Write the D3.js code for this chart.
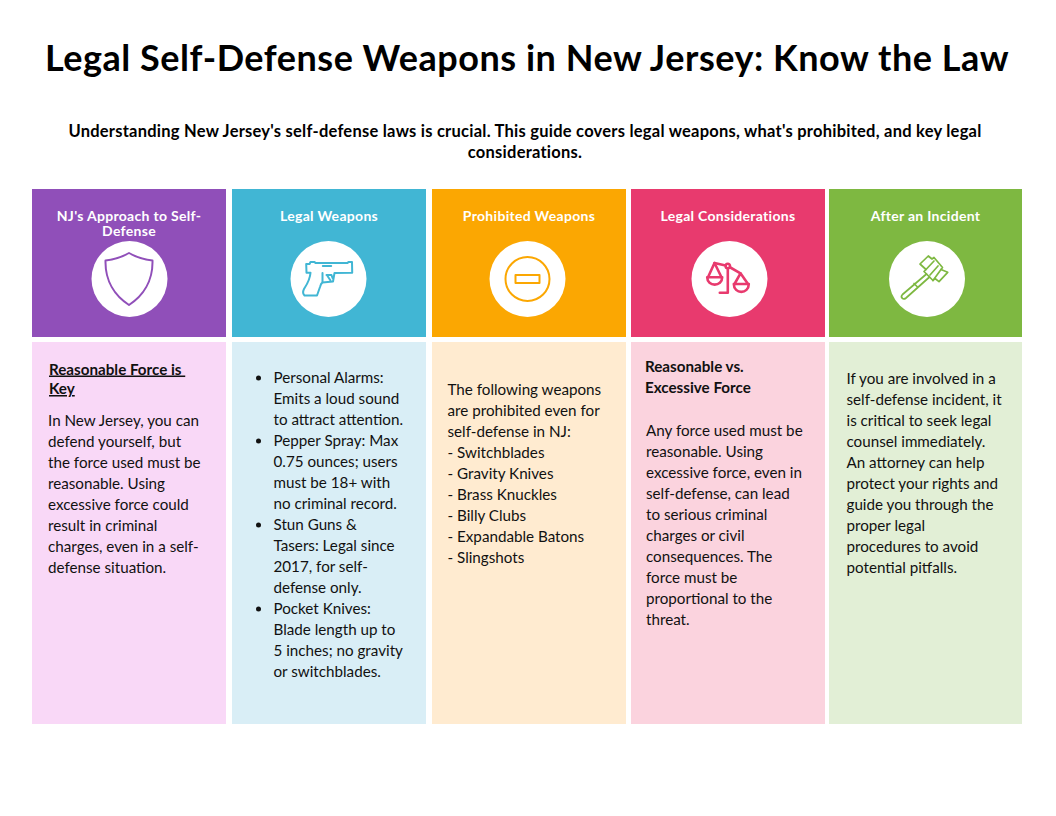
<!DOCTYPE html>
<html>
<head>
<meta charset="utf-8">
<script src="https://cdn.jsdelivr.net/npm/d3@7"></script>
<style>
  html, body { margin: 0; padding: 0; background: #fff; }
  svg { display: block; }
  text { font-family: "Lato", "Noto Sans", sans-serif; }
</style>
</head>
<body>
<svg id="chart" width="1056" height="816"></svg>
<script>
const titleText = "Legal Self-Defense Weapons in New Jersey: Know the Law";
const introLines = [
  "Understanding New Jersey's self-defense laws is crucial. This guide covers legal weapons, what's prohibited, and key legal",
  "considerations."
];
const headers = [
  ["NJ's Approach to Self-", "Defense"],
  ["Legal Weapons"],
  ["Prohibited Weapons"],
  ["Legal Considerations"],
  ["After an Incident"]
];
const headerColors = ["#904fb9", "#41b6d4", "#fba702", "#e83a6e", "#7eb841"];
const panelColors = ["#f9d8f7", "#d9eef6", "#ffebd0", "#fbd3de", "#e2efd6"];
const iconNames = ["shield", "gun", "minus", "scales", "gavel"];

const purpleHeading = ["Reasonable Force is ", "Key"];
const purpleBody = ["In New Jersey, you can", "defend yourself, but", "the force used must be", "reasonable. Using", "excessive force could", "result in criminal", "charges, even in a self-", "defense situation."];
const blueItems = [
  ["Personal Alarms:", "Emits a loud sound", "to attract attention."],
  ["Pepper Spray: Max", "0.75 ounces; users", "must be 18+ with", "no criminal record."],
  ["Stun Guns &", "Tasers: Legal since", "2017, for self-", "defense only."],
  ["Pocket Knives:", "Blade length up to", "5 inches; no gravity", "or switchblades."]
];
const orangeBody = ["The following weapons", "are prohibited even for", "self-defense in NJ:", "- Switchblades", "- Gravity Knives", "- Brass Knuckles", "- Billy Clubs", "- Expandable Batons", "- Slingshots"];
const pinkHeading = ["Reasonable vs.", "Excessive Force"];
const pinkBody = ["Any force used must be", "reasonable. Using", "excessive force, even in", "self-defense, can lead", "to serious criminal", "charges or civil", "consequences. The", "force must be", "proportional to the", "threat."];
const greenBody = ["If you are involved in a", "self-defense incident, it", "is critical to seek legal", "counsel immediately.", "An attorney can help", "protect your rights and", "guide you through the", "proper legal", "procedures to avoid", "potential pitfalls."];

const svg = d3.select("#chart");
const dark = "#111";
const lineGap = 21;

// columns are not quite evenly spaced in the original
const colIndex = d3.range(headers.length);
const x = d3.scaleOrdinal().domain(colIndex).range([32, 232, 432, 631, 829]);
const colWidth = d3.scaleOrdinal().domain(colIndex).range([194, 194, 194, 194, 193]);
const iconX = d3.scaleOrdinal().domain(colIndex).range([97.5, 96.5, 95.5, 98.5, 98]);
const headerY = d3.scaleLinear().domain([0, 1]).range([189, 337]);
const panelY = d3.scaleLinear().domain([0, 1]).range([342, 724]);

svg.append("text").attr("x", 527).attr("y", 71).attr("text-anchor", "middle")
  .attr("font-size", 36).attr("font-weight", 700).attr("letter-spacing", 0.53)
  .attr("fill", "#000").text(titleText);

svg.selectAll("text.intro").data(introLines).join("text").attr("class", "intro")
  .attr("x", 525).attr("y", (d, i) => 137 + i * lineGap).attr("text-anchor", "middle")
  .attr("font-size", 16.5).attr("font-weight", 700).attr("letter-spacing", 0.24)
  .attr("fill", "#000").text(d => d);

const cols = svg.selectAll("g.col").data(headers).join("g").attr("class", "col")
  .attr("transform", (d, i) => `translate(${x(i)},0)`);

cols.append("rect").attr("width", (d, i) => colWidth(i)).attr("y", headerY(0))
  .attr("height", headerY(1) - headerY(0)).attr("fill", (d, i) => headerColors[i]);
cols.append("rect").attr("width", (d, i) => colWidth(i)).attr("y", panelY(0))
  .attr("height", panelY(1) - panelY(0)).attr("fill", (d, i) => panelColors[i]);

cols.each(function(lines, col) {
  d3.select(this).selectAll("text.head").data(lines).join("text").attr("class", "head")
    .attr("x", colWidth(col) / 2).attr("y", (d, i) => 220.5 + i * 15).attr("text-anchor", "middle")
    .attr("font-size", 14).attr("font-weight", 700).attr("letter-spacing", 0.3)
    .attr("fill", "#fff").text(d => d);
});

const iconG = cols.append("g").attr("transform", (d, i) => `translate(${iconX(i)},279)`);
iconG.append("circle").attr("r", 38).attr("fill", "#fff");

function drawIcon(g, name, color) {
  g.attr("fill", "none").attr("stroke", color).attr("stroke-width", 1.8)
    .attr("stroke-linejoin", "round").attr("stroke-linecap", "round");
  if (name === "shield") {
    g.attr("stroke-width", 2);
    g.append("path").attr("d", "M-0.5,-26 C6.5,-22 14.5,-19.5 23,-18.5 C23.5,2 13.5,17 -0.5,26 C-14.5,17 -24.5,2 -24,-18.5 C-15.5,-19.5 -7.5,-22 -0.5,-26 Z");
  } else if (name === "gun") {
    g.attr("stroke-width", 2);
    g.append("path").attr("d", "M-22.3,-15 L-19,-15 L-18,-17 L-14,-17 L-13,-16 L19,-16 L20,-17 L23.5,-17 L23.7,-6.3 L6,-6 L4.5,2.5 L-6,3.5 C-7,4 -8,6 -8.5,8 L-11.5,16.5 L-24,16.5 C-25.5,15 -25.5,12 -24.5,10 C-22,6 -18.5,1 -18,-6.3 L-22,-6.3 Z");
    g.append("path").attr("d", "M-6,-6 L-6,3 M-2,-4 L3,-4 L4,-1 M-1,-3 L2,1.5");
    g.append("path").attr("d", "M-5.7,-13 L2.7,-13");
  } else if (name === "minus") {
    g.attr("stroke-width", 2);
    g.append("circle").attr("r", 22);
    g.append("rect").attr("x", -12).attr("y", -4).attr("width", 24).attr("height", 8);
  } else if (name === "scales") {
    g.attr("stroke-width", 2.6);
    g.append("path").attr("d", "M-1.7,-13 L-1.7,13.7 M-9.7,13.7 L-1.7,13.7 M-15,-16 L-1.7,-13 L11,-5.7");
    g.append("circle").attr("cx", -1.7).attr("cy", -13).attr("r", 2.2).attr("fill", "#fff");
    g.append("path").attr("d", "M-15,-16 L-21.5,-1.7 M-15,-16 L-8,-1.7 M11,-5.7 L5,5 M11,-5.7 L18.5,5");
    g.append("path").attr("d", "M-22.3,-1.7 L-7.3,-1.7 C-7.3,8 -22.3,8 -22.3,-1.7 Z");
    g.append("path").attr("d", "M4.3,5 L19.3,5 C19.3,15.5 4.3,15.5 4.3,5 Z");
  } else {
    g.attr("stroke-width", 1.7);
    g.append("path").attr("d", "M-7,-15 L1.3,-23 L5,-20 L7,-21.5 L15.5,-11.5 L14,-9.5 L20.7,-6.7 L12,2.7 L8,-0.5 L6,1.5 L-3,-7.5 L-1,-9.5 Z");
    g.append("path").attr("d", "M-1,-9.5 L7,-18 M3,-4 L11,-13 M6,1.5 L14,-9.5");
    g.append("path").attr("d", "M-0.5,-5 L-24.5,15.5 C-27,18 -24,21.5 -21,19 L2.5,-2 M-13,4.5 L-9,8.5");
  }
}
iconG.each(function(d, i) {
  drawIcon(d3.select(this).append("g"), iconNames[i], headerColors[i]);
});

function textBlock(col, lines, dx, firstY, opts = {}) {
  const gap = opts.gap || lineGap;
  return svg.append("g").selectAll("text").data(lines).join("text")
    .attr("x", x(col) + dx).attr("y", (d, i) => firstY + i * gap)
    .attr("font-size", 15.2).attr("fill", dark)
    .attr("font-weight", opts.bold ? 700 : 400)
    .attr("text-decoration", opts.underline ? "underline" : null)
    .style("white-space", "pre")
    .text(d => d);
}

textBlock(0, purpleHeading, 17, 374.5, { bold: true, underline: true, gap: 19.5 });
textBlock(0, purpleBody, 16, 426);

let itemY = 383;
blueItems.forEach(item => {
  svg.append("circle").attr("cx", x(1) + 26.5).attr("cy", itemY - 5).attr("r", 2.5).attr("fill", dark);
  textBlock(1, item, 41.5, itemY);
  itemY += item.length * lineGap;
});

textBlock(2, orangeBody, 15.5, 395);
textBlock(3, pinkHeading, 14, 372, { bold: true });
textBlock(3, pinkBody, 15, 436);
textBlock(4, greenBody, 17.5, 384);
</script>
</body>
</html>
